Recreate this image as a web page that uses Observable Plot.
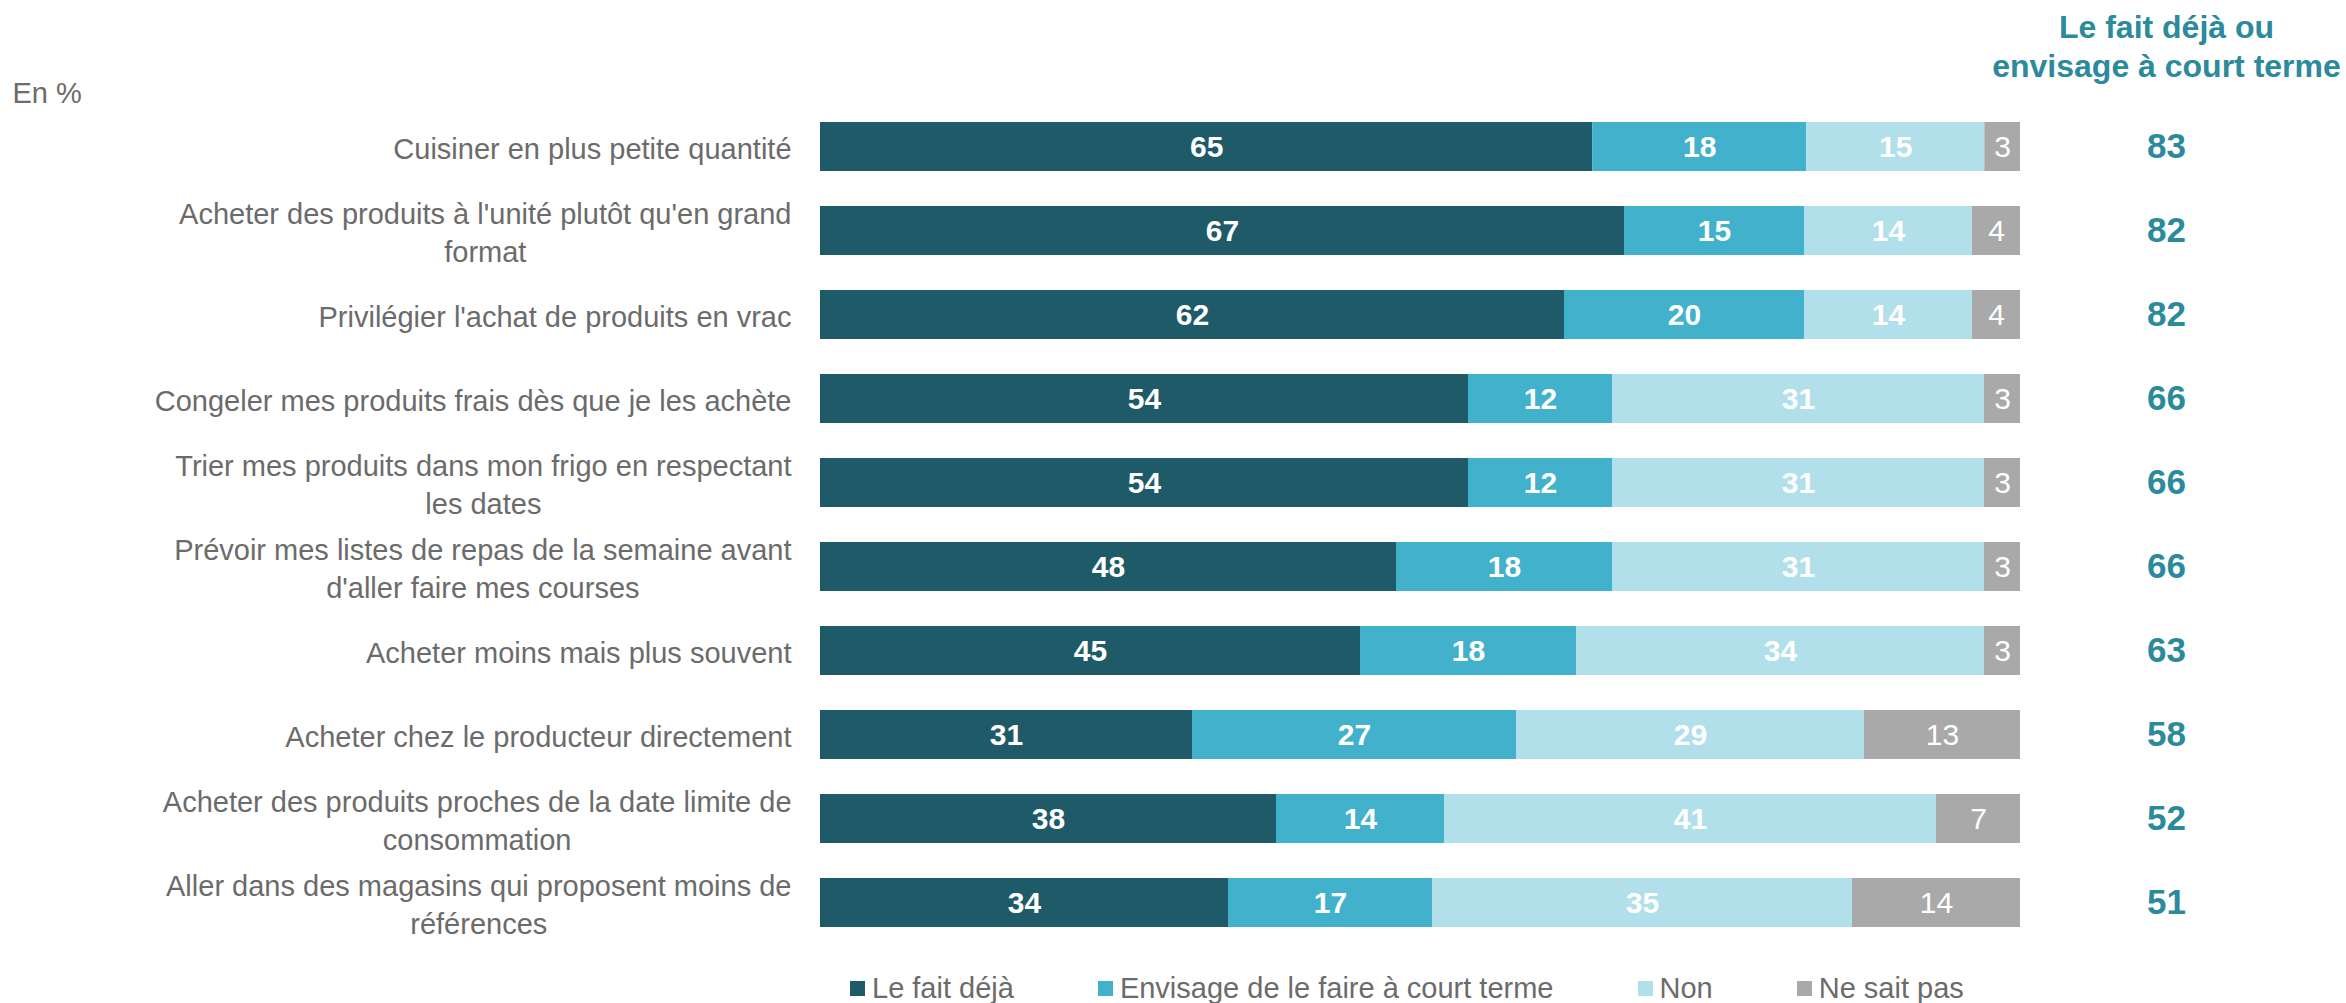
<!DOCTYPE html>
<html>
<head>
<meta charset="utf-8">
<script src="https://cdn.jsdelivr.net/npm/d3@7"></script>
<script src="https://cdn.jsdelivr.net/npm/@observablehq/plot@0.6"></script>
<style>
  html, body { margin: 0; padding: 0; background: #fff; }
  body { width: 2346px; height: 1003px; overflow: hidden; font-family: "Liberation Sans", Arial, sans-serif; }
  #legend { padding-left: 850px; padding-top: 6px; }
  .leg-swatch { margin-right: 84px !important; }
  .leg-swatch > svg { margin-right: 7px !important; }
</style>
</head>
<body>
<div id="chart"></div>
<div id="legend"></div>
<script>
// ---- data ----
const categories = [
  "Cuisiner en plus petite quantité",
  "Acheter des produits à l'unité plutôt qu'en grand\nformat",
  "Privilégier l'achat de produits en vrac",
  "Congeler mes produits frais dès que je les achète",
  "Trier mes produits dans mon frigo en respectant\nles dates",
  "Prévoir mes listes de repas de la semaine avant\nd'aller faire mes courses",
  "Acheter moins mais plus souvent",
  "Acheter chez le producteur directement",
  "Acheter des produits proches de la date limite de\nconsommation",
  "Aller dans des magasins qui proposent moins de\nréférences"
];
const seriesNames = ["Le fait déjà", "Envisage de le faire à court terme", "Non", "Ne sait pas"];
const faitDeja  = [65, 67, 62, 54, 54, 48, 45, 31, 38, 34];
const envisage  = [18, 15, 20, 12, 12, 18, 18, 27, 14, 17];
const non       = [15, 14, 14, 31, 31, 31, 34, 29, 41, 35];
const neSaitPas = [3, 4, 4, 3, 3, 3, 3, 13, 7, 14];
const totals    = [83, 82, 82, 66, 66, 66, 63, 58, 52, 51];
const totalHeader = "Le fait déjà ou\nenvisage à court terme";
const unitLabel = "En %";

const colors = ["#1f5a69", "#41b1cc", "#b1e0ea", "#a9a9a9"];
const textGray = "#6b6b6b";
const teal = "#2b8a9c";
const FONT = "'Liberation Sans', Arial, sans-serif";

const seriesValues = [faitDeja, envisage, non, neSaitPas];
const rows = [];
seriesNames.forEach((s, j) => {
  categories.forEach((c, i) => rows.push({cat: c, type: s, value: seriesValues[j][i]}));
});
const totalRows = categories.map((c, i) => ({cat: c, total: totals[i]}));

// measure label widths for centered multi-line labels aligned to the right edge
const ctx = document.createElement("canvas").getContext("2d");
ctx.font = `29px ${FONT}`;
const labelWidth = (s) => Math.max(...s.split("\n").map(l => ctx.measureText(l).width));

const stackOpts = (textFn) => Plot.stackX({
  x: "value", y: "cat", z: "type", offset: "normalize", order: null,
  text: textFn
});

const labelMarks = categories.map(c => Plot.text([c], {
  y: d => d, text: d => d, frameAnchor: "left", textAnchor: "middle",
  dx: -(29 + labelWidth(c) / 2), fontSize: 29, fill: textGray, lineHeight: 1.3
}));

const chart = Plot.plot({
  width: 2346,
  height: 966,
  marginLeft: 820,
  marginRight: 326,
  marginTop: 85,
  marginBottom: 3,
  style: {fontFamily: FONT, background: "#fff"},
  x: {axis: null, domain: [0, 1]},
  y: {axis: null, domain: categories, padding: 0.42},
  color: {domain: seriesNames, range: colors},
  marks: [
    Plot.barX(rows, Plot.stackX({x: "value", y: "cat", z: "type", fill: "type", offset: "normalize", order: null})),
    Plot.text(rows, {...stackOpts(d => d.type === "Ne sait pas" ? null : String(d.value)), fill: "white", fontWeight: "bold", fontSize: 30}),
    Plot.text(rows, {...stackOpts(d => d.type === "Ne sait pas" ? String(d.value) : null), fill: "white", fontSize: 30}),
    ...labelMarks,
    Plot.text(totalRows, {y: "cat", text: d => String(d.total), frameAnchor: "right", dx: 146, textAnchor: "middle",
      fill: teal, fontWeight: "bold", fontSize: 35}),
    Plot.text([totalHeader], {frameAnchor: "top-right", dx: 146, dy: -9, textAnchor: "middle", lineAnchor: "bottom",
      fill: teal, fontWeight: "bold", fontSize: 32, lineHeight: 1.19}),
    Plot.text([unitLabel], {frameAnchor: "top-left", dx: -808, dy: 17, textAnchor: "start", lineAnchor: "bottom",
      fill: textGray, fontSize: 29})
  ]
});
document.getElementById("chart").appendChild(chart);

const legend = Plot.legend({
  color: {domain: seriesNames, range: colors},
  swatchSize: 15,
  className: "leg",
  style: {fontSize: "29px", fontFamily: FONT, color: textGray}
});
document.getElementById("legend").appendChild(legend);
</script>
</body>
</html>
